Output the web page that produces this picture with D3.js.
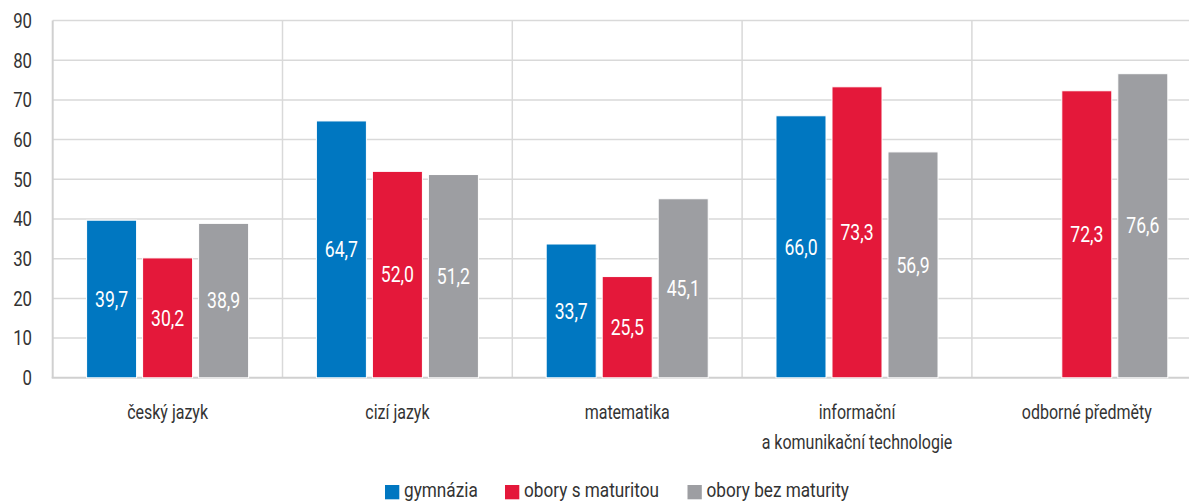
<html>
<head>
<meta charset="utf-8">
<script src="https://d3js.org/d3.v7.min.js"></script>
<style>
  body { margin: 0; background: #fff; }
  text { font-family: Roboto, "Liberation Sans", sans-serif; }
</style>
</head>
<body>
<svg id="chart" width="1189" height="502"></svg>
<script>
var categories = [["český jazyk"], ["cizí jazyk"], ["matematika"], ["informační", "a komunikační technologie"], ["odborné předměty"]];
var series = ["gymnázia", "obory s maturitou", "obory bez maturity"];
var gymnazia = [39.7, 64.7, 33.7, 66.0, null];
var sMaturitou = [30.2, 52.0, 25.5, 73.3, 72.3];
var bezMaturity = [38.9, 51.2, 45.1, 56.9, 76.6];
var yTicks = [0, 10, 20, 30, 40, 50, 60, 70, 80, 90];
var colors = ["#0077c1", "#e4183a", "#9d9ea2"];

var values = [gymnazia, sMaturitou, bezMaturity];
var svg = d3.select("#chart");
var SX = 0.8; // narrow the font horizontally, the original uses a condensed face

function label(parent, px, py, str, size, fill, anchor, sx) {
  return parent.append("text")
    .attr("transform", "translate(" + px + "," + py + ") scale(" + (sx || SX) + ",1)")
    .attr("dy", "0.35em").attr("text-anchor", anchor)
    .attr("font-size", size).attr("fill", fill).text(str);
}

var left = 52.7, bandW = 229.8;
var x = d3.scaleBand().domain(d3.range(categories.length))
  .range([left, left + bandW * categories.length]).padding(0);
var xs = d3.scaleBand().domain(d3.range(series.length))
  .range([0, x.bandwidth()]).paddingInner(0.107).paddingOuter(0.605);
var y = d3.scaleLinear().domain([0, 90]).range([377.8, 20.5]);

// grid
svg.append("g").selectAll("line").data(yTicks.slice(1)).enter().append("line")
  .attr("x1", left).attr("x2", 1189)
  .attr("y1", function(d) { return y(d); }).attr("y2", function(d) { return y(d); })
  .attr("stroke", "#d9d9d9").attr("stroke-width", 1.5);
svg.append("g").selectAll("line").data(d3.range(1, categories.length)).enter().append("line")
  .attr("x1", function(d) { return x(d); }).attr("x2", function(d) { return x(d); })
  .attr("y1", y(90)).attr("y2", y(0))
  .attr("stroke", "#d9d9d9").attr("stroke-width", 1.5);

// axis lines
svg.append("line").attr("x1", left).attr("x2", left).attr("y1", y(90)).attr("y2", y(0))
  .attr("stroke", "#d0d0d0").attr("stroke-width", 2);
svg.append("line").attr("x1", left - 1).attr("x2", 1189).attr("y1", y(0)).attr("y2", y(0))
  .attr("stroke", "#d0d0d0").attr("stroke-width", 2);

// y tick labels
yTicks.forEach(function(d) {
  label(svg, 32, y(d), d, 21, "#333", "end");
});

// bars
var fmt = function(v) { return v.toFixed(1).replace(".", ","); };
series.forEach(function(s, si) {
  var g = svg.append("g");
  var data = values[si].map(function(v, ci) { return {v: v, c: ci}; })
    .filter(function(d) { return d.v !== null; });
  g.selectAll("rect").data(data).enter().append("rect")
    .attr("x", function(d) { return x(d.c) + xs(si); })
    .attr("y", function(d) { return y(d.v); })
    .attr("width", xs.bandwidth())
    .attr("height", function(d) { return y(0) - y(d.v); })
    .attr("fill", colors[si]).attr("stroke", "#fff").attr("stroke-width", 1);
  data.forEach(function(d) {
    label(g, x(d.c) + xs(si) + xs.bandwidth() / 2, (y(d.v) + y(0)) / 2,
      fmt(d.v), 22, "#fff", "middle");
  });
});

// category labels
categories.forEach(function(lines, ci) {
  lines.forEach(function(l, li) {
    label(svg, x(ci) + x.bandwidth() / 2, 411.7 + li * 30, l, 20, "#333", "middle");
  });
});

// legend
var legendX = [385, 505, 687.5];
series.forEach(function(s, si) {
  svg.append("rect").attr("x", legendX[si]).attr("y", 485)
    .attr("width", 14.3).attr("height", 14.3).attr("fill", colors[si]);
  label(svg, legendX[si] + 19, 490, s, 20, "#333", "start", 0.86);
});
</script>
</body>
</html>
